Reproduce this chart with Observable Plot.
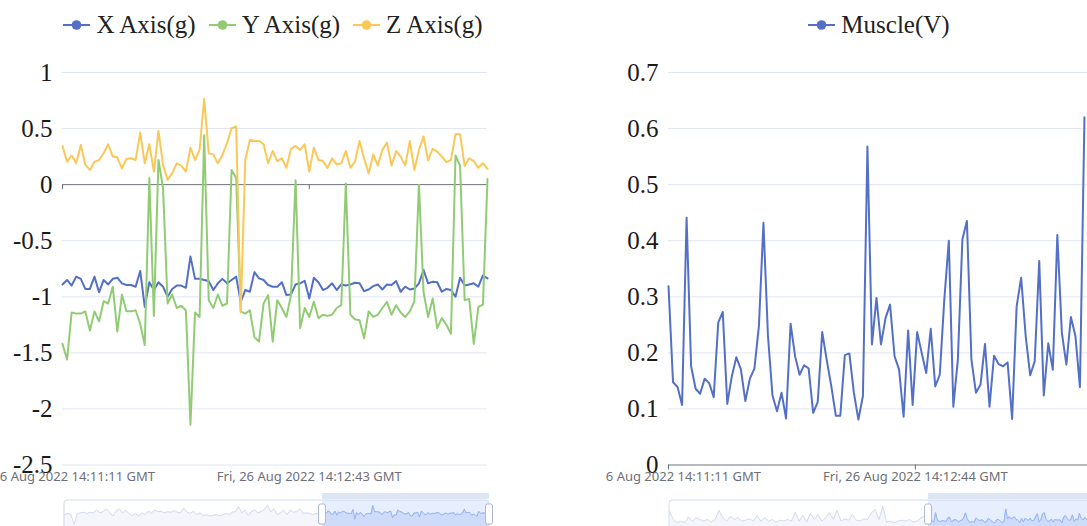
<!DOCTYPE html>
<html>
<head>
<meta charset="utf-8">
<script src="https://cdn.jsdelivr.net/npm/d3@7"></script>
<script src="https://cdn.jsdelivr.net/npm/@observablehq/plot@0.6"></script>
<style>
  html, body { margin: 0; padding: 0; background: #fff; }
  body { width: 1087px; height: 526px; overflow: hidden; position: relative; }
  .panel { position: absolute; top: 0; width: 546px; height: 526px; overflow: hidden; }
  .panel svg { display: block; }
  .legend { height: 49px; display: flex; justify-content: center; align-items: center;
            font-family: "Liberation Serif", "Times New Roman", serif; font-size: 25px; color: #222; }
  .legend .item { display: flex; align-items: center; margin: 0 6.5px; white-space: nowrap; }
  .legend .item svg { margin-right: 6px; }
</style>
</head>
<body>
<div class="panel" id="accel" style="left:0px"></div>
<div class="panel" id="muscle" style="left:606px"></div>
<script>
// ---- Accelerometer panel ----
const accelSeries = ["X Axis(g)", "Y Axis(g)", "Z Axis(g)"];
const accelColors = ["#5470C6", "#91CC75", "#FAC858"];

const xAxisG = [-0.89,-0.85,-0.90,-0.82,-0.84,-0.93,-0.93,-0.82,-0.96,-0.85,
  -0.89,-0.84,-0.83,-0.88,-0.895,-0.895,-0.91,-0.77,-1.09,-0.87,
  -0.94,-0.87,-0.91,-1.00,-0.93,-0.90,-0.90,-0.92,-0.64,-0.84,
  -0.84,-0.85,-0.86,-0.94,-0.88,-0.84,-0.88,-0.85,-0.82,-1.045,
  -0.94,-0.955,-0.78,-0.836,-0.85,-0.895,-0.91,-0.91,-0.87,-0.985,
  -0.98,-0.89,-0.88,-0.857,-1.015,-0.83,-0.87,-0.94,-0.92,-0.88,
  -0.94,-0.89,-0.90,-0.89,-0.875,-0.88,-0.95,-0.935,-0.905,-0.89,
  -0.935,-0.89,-0.895,-0.86,-0.955,-0.91,-0.935,-0.926,-0.88,-0.76,
  -0.88,-0.866,-0.87,-0.955,-0.93,-0.94,-1.0,-0.83,-0.90,-0.89,
  -0.88,-0.91,-0.81,-0.836];

const yAxisG = [-1.42,-1.56,-1.14,-1.15,-1.15,-1.13,-1.30,-1.13,-1.22,-1.04,
  -1.06,-0.91,-1.31,-0.98,-1.13,-1.13,-1.12,-1.24,-1.43,0.06,
  -1.17,0.22,-0.03,-1.06,-0.98,-1.10,-1.08,-1.12,-2.14,-1.14,
  -1.18,0.44,-1.03,-1.10,-0.98,-1.08,-1.06,0.13,0.06,-1.13,
  -1.15,-1.12,-1.36,-1.40,-1.06,-0.985,-1.40,-1.03,-1.10,-1.18,
  -0.985,0.04,-1.28,-1.10,-1.18,-1.045,-1.19,-1.16,-1.17,-1.16,
  -1.10,-1.075,0.01,-1.16,-1.20,-1.21,-1.37,-1.13,-1.18,-1.16,
  -1.10,-1.045,-1.16,-1.075,-1.14,-1.18,-1.13,-1.04,0.0,-0.955,
  -1.18,-1.015,-1.28,-1.19,-1.25,-1.33,0.26,0.17,-1.03,-1.02,
  -1.42,-1.09,-1.07,0.05];

const zAxisG = [0.345,0.205,0.26,0.19,0.354,0.176,0.131,0.205,0.22,0.28,
  0.36,0.25,0.244,0.146,0.229,0.235,0.22,0.464,0.19,0.36,
  0.116,0.479,0.176,0.042,0.101,0.19,0.17,0.116,0.33,0.22,
  0.31,0.765,0.28,0.27,0.19,0.265,0.37,0.503,0.518,-1.14,
  0.22,0.40,0.39,0.39,0.36,0.19,0.30,0.21,0.235,0.15,
  0.32,0.345,0.31,0.36,0.116,0.33,0.22,0.21,0.15,0.235,
  0.18,0.19,0.30,0.15,0.205,0.39,0.235,0.10,0.27,0.17,
  0.31,0.375,0.17,0.30,0.25,0.17,0.39,0.13,0.31,0.43,
  0.215,0.32,0.295,0.25,0.20,0.22,0.45,0.45,0.167,0.235,
  0.21,0.15,0.19,0.14];

// earlier X-axis samples, only shown in the zoom slider's data shadow
const xAxisHistory = [-0.94,-0.90,-0.94,-1.27,-0.90,-0.88,-0.86,-0.90,-0.86,-0.88,
  -0.79,-0.88,-0.84,-0.75,-0.86,-0.99,-0.83,-0.75,-0.88,-0.80,
  -0.90,-0.97,-0.90,-0.99,-0.88,-0.94,-0.83,-0.88,-0.79,-0.84,
  -0.83,-0.88,-0.84,-0.86,-0.81,-0.86,-0.88,-0.72,-0.86,-0.90,
  -0.83,-0.94,-0.88,-0.97,-0.94,-0.99,-0.97,-0.94,-0.97,-0.95,
  -0.90,-0.94,-0.86,-0.84,-0.68,-0.88,-0.79,-0.97,-0.83,-0.79,
  -0.88,-0.84,-0.77,-0.64,-0.84,-0.75,-0.94,-0.88,-0.79,-0.94,
  -0.79,-0.86,-0.84,-0.75,-0.90,-0.88,-0.90,-0.94,-0.90,-0.94];

const accelYTicks = [-2.5, -2, -1.5, -1, -0.5, 0, 0.5, 1];
const accelXTickIndex = [0, 54];
const accelXTickLabels = ["Fri, 26 Aug 2022 14:11:11 GMT", "Fri, 26 Aug 2022 14:12:43 GMT"];
const accelZoomStart = 60.7; // percent of the full record where the window begins

// ---- Muscle panel ----
const muscleSeries = ["Muscle(V)"];
const muscleColors = ["#5470C6"];

const muscleV = [0.319,0.148,0.139,0.107,0.441,0.176,0.136,0.127,0.154,0.146,
  0.121,0.254,0.273,0.109,0.158,0.192,0.171,0.114,0.154,0.172,
  0.248,0.432,0.23,0.124,0.096,0.129,0.083,0.252,0.194,0.161,
  0.178,0.172,0.093,0.112,0.237,0.187,0.141,0.088,0.088,0.196,
  0.199,0.129,0.081,0.123,0.568,0.215,0.298,0.215,0.262,0.286,
  0.194,0.170,0.086,0.24,0.107,0.237,0.20,0.164,0.243,0.14,
  0.161,0.295,0.40,0.104,0.188,0.402,0.435,0.188,0.129,0.143,
  0.216,0.104,0.195,0.18,0.176,0.183,0.082,0.283,0.334,0.23,
  0.16,0.185,0.364,0.124,0.217,0.17,0.41,0.236,0.179,0.264,
  0.23,0.139,0.62];

const muscleHistory = [0.49,0.196,0.078,0.137,0.078,0.29,0.137,0.255,0.196,0.137,
  0.196,0.102,0.196,0.526,0.255,0.137,0.314,0.196,0.255,0.137,
  0.172,0.22,0.137,0.337,0.137,0.255,0.137,0.196,0.102,0.172,
  0.137,0.196,0.137,0.455,0.137,0.337,0.102,0.408,0.196,0.373,
  0.137,0.255,0.432,0.196,0.526,0.137,0.22,0.172,0.373,0.172,
  0.137,0.22,0.196,0.432,0.549,0.196,0.667,0.102,0.137,0.078,
  0.137,0.172,0.137,0.196,0.102,0.137,0.255,0.314];

const muscleYTicks = [0, 0.1, 0.2, 0.3, 0.4, 0.5, 0.6, 0.7];
const muscleXTickIndex = [0, 54.6];
const muscleXTickLabels = ["Fri, 26 Aug 2022 14:11:11 GMT", "Fri, 26 Aug 2022 14:12:44 GMT"];
const muscleZoomStart = 61.1;

// ---- builders ----
const serif = '"Liberation Serif", "Times New Roman", serif';

function legend(series, colors) {
  const div = document.createElement("div");
  div.className = "legend";
  series.forEach((name, k) => {
    const item = document.createElement("div");
    item.className = "item";
    item.innerHTML =
      `<svg width="27" height="12"><line x1="0" x2="27" y1="6" y2="6" stroke="${colors[k]}" stroke-width="2"/>` +
      `<circle cx="13.5" cy="6" r="4.8" fill="${colors[k]}"/></svg><span>${name}</span>`;
    div.appendChild(item);
  });
  return div;
}

function mainChart({series, colors, values, yDomain, yTicks, xMax, tickIndex, tickLabels}) {
  const rows = series.flatMap((s, k) => values[k].map((v, i) => ({series: s, i, v})));
  const xTicks = tickIndex.map((p, j) => ({p, label: tickLabels[j]}));
  return Plot.plot({
    width: 546, height: 440,
    marginTop: 23, marginBottom: 24.5, marginLeft: 62, marginRight: 59,
    style: {fontFamily: '"Noto Sans", "Open Sans", sans-serif', fontSize: "13px", background: "transparent"},
    x: {domain: [0, xMax], axis: null},
    y: {domain: yDomain, axis: null},
    color: {domain: series, range: colors},
    marks: [
      Plot.gridY(yTicks.filter(d => d !== 0), {stroke: "#E0E6F1", strokeOpacity: 1}),
      Plot.ruleY([0], {stroke: "#6E7079"}),
      Plot.ruleX(tickIndex, {x: d => d, y1: 0, y2: 0, insetBottom: -5, stroke: "#6E7079"}),
      // value labels on the left, in serif like the legend
      Plot.text(yTicks, {
        y: d => d, text: d => String(d), frameAnchor: "left", textAnchor: "end", dx: -10,
        fontFamily: serif, fontSize: 25, fill: "#1a1a1a"
      }),
      Plot.text(xTicks, {x: "p", text: "label", frameAnchor: "bottom", lineAnchor: "top", dy: 7, fill: "#6E7079"}),
      Plot.lineY(rows, {x: "i", y: "v", z: "series", stroke: "series", strokeWidth: 2})
    ]
  });
}

function zoomSlider({history, visible, visibleMax, start, yDomain, marginLeft, marginRight}) {
  const s = start / 100;
  const pts = [
    ...history.map((v, k) => ({p: (k / history.length) * s, v})),
    ...visible.map((v, i) => ({p: s + (i / visibleMax) * (1 - s), v}))
  ];
  const sel = pts.filter(d => d.p >= s);
  const base = yDomain[0];
  return Plot.plot({
    width: 546, height: 42,
    marginTop: 11, marginBottom: 1, marginLeft, marginRight,
    style: {background: "transparent"},
    x: {domain: [0, 1], axis: null},
    y: {domain: yDomain, axis: null},
    marks: [
      Plot.areaY(pts, {x: "p", y1: base, y2: "v", fill: "#D2DBEE", fillOpacity: 0.25}),
      Plot.lineY(pts, {x: "p", y: "v", stroke: "#C9D3EA", strokeWidth: 0.8}),
      Plot.rect([s], {x1: d => d, x2: 1, fill: "rgb(135,175,255)", fillOpacity: 0.2}),
      Plot.areaY(sel, {x: "p", y1: base, y2: "v", fill: "#8FB0F7", fillOpacity: 0.2}),
      Plot.lineY(sel, {x: "p", y: "v", stroke: "#8FB0F7", strokeWidth: 0.8}),
      Plot.rect([0], {x1: 0, x2: 1, fill: "none", stroke: "#D2DBEE", rx: 3}),
      Plot.rect([s], {x1: d => d, x2: 1, insetTop: -7, insetBottom: 31, fill: "#D2DBEE", fillOpacity: 0.7}),
      Plot.rect([s, 1], {x1: d => d, x2: d => d, insetLeft: -3.5, insetRight: -3.5, insetTop: 4, insetBottom: 6,
        fill: "#fff", stroke: "#ACB8D1", rx: 2})
    ]
  });
}

const accel = document.getElementById("accel");
accel.appendChild(legend(accelSeries, accelColors));
accel.appendChild(mainChart({
  series: accelSeries, colors: accelColors, values: [xAxisG, yAxisG, zAxisG],
  yDomain: [-2.5, 1], yTicks: accelYTicks, xMax: xAxisG.length - 1,
  tickIndex: accelXTickIndex, tickLabels: accelXTickLabels
}));
accel.appendChild(zoomSlider({
  history: xAxisHistory, visible: xAxisG, visibleMax: xAxisG.length - 1,
  start: accelZoomStart, yDomain: [-1.463, -0.473], marginLeft: 64, marginRight: 57
}));

const muscle = document.getElementById("muscle");
muscle.appendChild(legend(muscleSeries, muscleColors));
muscle.appendChild(mainChart({
  series: muscleSeries, colors: muscleColors, values: [muscleV],
  yDomain: [0, 0.7], yTicks: muscleYTicks, xMax: 94,
  tickIndex: muscleXTickIndex, tickLabels: muscleXTickLabels
}));
muscle.appendChild(zoomSlider({
  history: muscleHistory, visible: muscleV, visibleMax: 94,
  start: muscleZoomStart, yDomain: [-0.193, 0.867], marginLeft: 63, marginRight: 59
}));
</script>
</body>
</html>
